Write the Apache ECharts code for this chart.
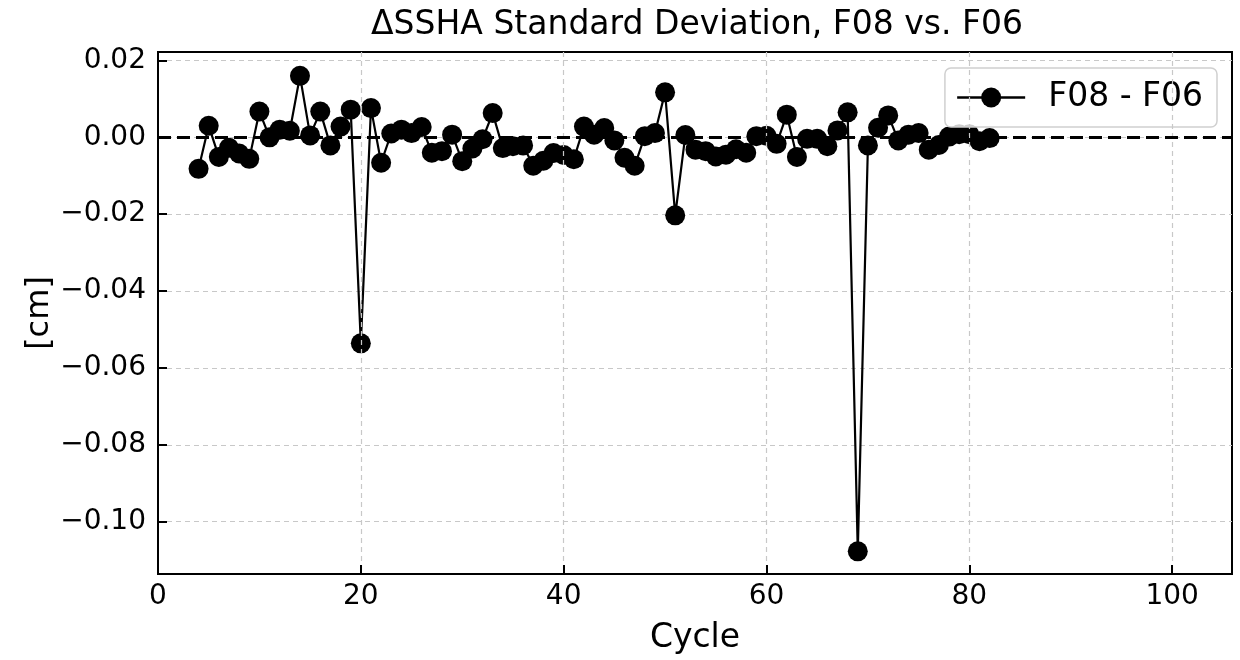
<!DOCTYPE html>
<html>
<head>
<meta charset="utf-8">
<script src="https://cdn.jsdelivr.net/npm/echarts@6/dist/echarts.min.js"></script>
<style>html,body{margin:0;padding:0;background:#fff}#c{width:1240px;height:660px}</style>
</head>
<body>
<div id="c"></div>
<script>
var cycles = [4,5,6,7,8,9,10,11,12,13,14,15,16,17,18,19,20,21,22,23,24,25,26,27,28,29,30,31,32,33,34,35,36,37,38,39,40,41,42,43,44,45,46,47,48,49,50,51,52,53,54,55,56,57,58,59,60,61,62,63,64,65,66,67,68,69,70,71,72,73,74,75,76,77,78,79,80,81,82];
var diffValues = [-0.0082,0.0030,-0.0051,-0.0027,-0.0042,-0.0056,0.0067,0.0000,0.0020,0.0017,
  0.0160,0.0005,0.0067,-0.0021,0.0028,0.0072,-0.0536,0.0076,-0.0066,0.0010,
  0.0020,0.0011,0.0027,-0.0040,-0.0036,0.0007,-0.0062,-0.0029,-0.0005,0.0063,
  -0.0028,-0.0023,-0.0021,-0.0074,-0.0061,-0.0041,-0.0046,-0.0057,0.0028,0.0007,
  0.0024,-0.0008,-0.0053,-0.0074,0.0003,0.0011,0.0117,-0.0203,0.0006,-0.0032,
  -0.0036,-0.0050,-0.0045,-0.0031,-0.0040,0.0003,0.0004,-0.0017,0.0059,-0.0051,
  -0.0004,-0.0004,-0.0023,0.0018,0.0065,-0.1077,-0.0021,0.0025,0.0057,-0.0008,
  0.0007,0.0011,-0.0032,-0.0020,0.0002,0.0008,0.0008,-0.0010,-0.0002];
var xTicks = [0,20,40,60,80,100];
var yTicks = [-0.10,-0.08,-0.06,-0.04,-0.02,0.00,0.02];
var seriesName = 'F08 - F06';

var FONT = 'DejaVu Sans';
var chart = echarts.init(document.getElementById('c'), null, {renderer:'canvas'});
var pts = cycles.map(function(c,i){return [c, diffValues[i]];});
chart.setOption({
  animation: false,
  backgroundColor: '#fff',
  title: {
    text: '\u0394SSHA Standard Deviation, F08 vs. F06',
    left: 692, top: 4, textAlign: 'center',
    textStyle: {fontFamily: FONT, fontSize: 33, fontWeight: 'normal', color: '#000'}
  },
  grid: {left: 158, right: 8, top: 52, bottom: 85, show: true, borderColor: '#000', borderWidth: 2, backgroundColor: 'transparent'},
  legend: {
    data: [seriesName],
    right: 23, top: 68,
    orient: 'vertical',
    padding: [13, 14, 13, 11],
    itemWidth: 68, itemHeight: 25,
    lineStyle: {width: 2.5, color: '#000'},
    backgroundColor: 'rgba(255,255,255,0.8)',
    borderColor: '#d0d0d0', borderWidth: 1.5, borderRadius: 6,
    textStyle: {fontFamily: FONT, fontSize: 33, color: '#000', padding: [0,0,0,18]}
  },
  xAxis: {
    type: 'value', min: 0, max: 105.9, interval: 20, z: 5,
    name: 'Cycle', nameLocation: 'middle', nameGap: 48, nameMoveOverlap: false,
    nameTextStyle: {fontFamily: FONT, fontSize: 33, color: '#000'},
    axisLine: {show: true, onZero: false, lineStyle: {color: '#000', width: 2}},
    axisTick: {show: true, inside: true, length: 9, lineStyle: {color: '#000', width: 2}},
    axisLabel: {fontFamily: FONT, fontSize: 28, color: '#000', margin: 9, showMaxLabel: false,
      formatter: function(v){ return xTicks.indexOf(v) >= 0 ? String(v) : ''; }},
    splitLine: {show: true, showMinLine: false, showMaxLine: false, lineStyle: {color: '#c8c8c8', type: [5,4], width: 1.2}}
  },
  yAxis: {
    type: 'value', min: -0.1136, max: 0.0222, splitNumber: 7,
    name: '[cm]', nameLocation: 'middle', nameGap: 102, nameRotate: 90, nameMoveOverlap: false,
    nameTextStyle: {fontFamily: FONT, fontSize: 32, color: '#000'},
    axisLine: {show: true, onZero: false, lineStyle: {color: '#000', width: 2}},
    axisTick: {show: true, inside: true, length: 9, lineStyle: {color: '#000', width: 2}},
    axisLabel: {fontFamily: FONT, fontSize: 28, color: '#000', margin: 12, showMinLabel: false, showMaxLabel: false,
      formatter: function(v){
        var r = Math.round(v*100)/100;
        var hit = yTicks.some(function(t){return Math.abs(t-v) < 1e-6;});
        if (!hit) return '';
        return r.toFixed(2).replace('-', '\u2212');
      }},
    splitLine: {show: true, showMinLine: false, showMaxLine: false, lineStyle: {color: '#c8c8c8', type: [5,4], width: 1.2}}
  },
  series: [{
    name: seriesName,
    type: 'line',
    data: pts,
    symbol: 'circle', symbolSize: 20,
    itemStyle: {color: '#000'},
    lineStyle: {color: '#000', width: 2.2},
    z: 2,
    markLine: {
      silent: true, symbol: 'none', label: {show: false},
      lineStyle: {color: '#000', type: [13,6], width: 3},
      data: [{yAxis: 0, lineStyle: {color: '#000', type: [13,6], width: 3}}]
    }
  }]
});
</script>
</body>
</html>
